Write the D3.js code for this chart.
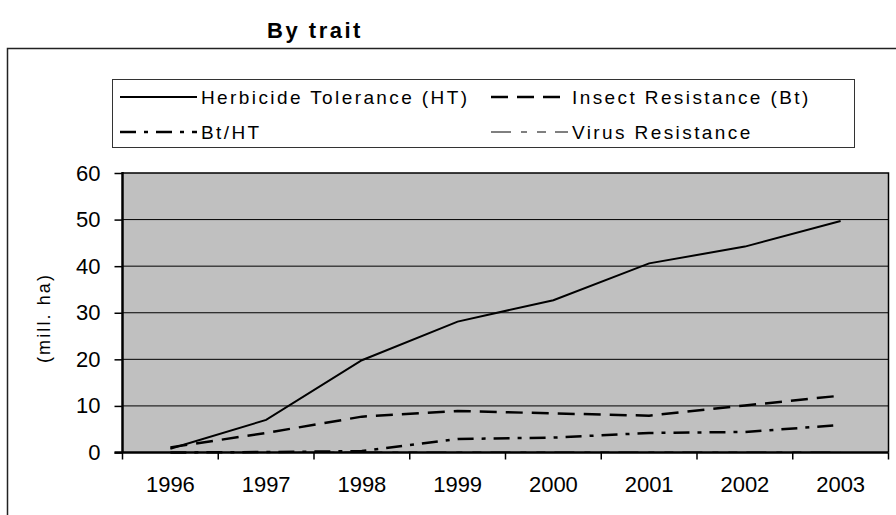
<!DOCTYPE html>
<html><head><meta charset="utf-8">
<script src="https://cdn.jsdelivr.net/npm/d3@7"></script>
<style>
body{margin:0;background:#fff;}
svg{display:block;font-family:"Liberation Sans",Arial,sans-serif;}
</style></head>
<body>
<svg id="c" width="896" height="515"></svg>
<script>
const years = ["1996","1997","1998","1999","2000","2001","2002","2003"];
const herbicideTolerance = [0.8, 7.0, 19.8, 28.1, 32.7, 40.6, 44.2, 49.7];
const insectResistance = [1.1, 4.2, 7.7, 8.9, 8.4, 7.9, 10.1, 12.2];
const btHT = [0, 0.1, 0.3, 2.9, 3.2, 4.2, 4.4, 5.9];
const virusResistance = [0, 0, 0.1, 0.1, 0.1, 0.1, 0.1, 0.1];
const yTicks = [0,10,20,30,40,50,60];
const seriesNames = ["Herbicide Tolerance (HT)","Insect Resistance (Bt)","Bt/HT","Virus Resistance"];

const series = [
  {name: seriesNames[0], values: herbicideTolerance, dash: null, w: 2},
  {name: seriesNames[1], values: insectResistance, dash: "17,9", w: 2.5},
  {name: seriesNames[2], values: btHT, dash: "16,8,4,8", w: 2.5},
  {name: seriesNames[3], values: virusResistance, dash: "20,10,6,10,9,9", w: 1}
];

const svg = d3.select("#c");
const L = 122.5, R = 888.5, T = 173, B = 452.5;

// outer border
svg.append("rect").attr("x",7.5).attr("y",48.5).attr("width",900).attr("height",520)
  .attr("fill","none").attr("stroke","#222").attr("stroke-width",1.5);

// title
svg.append("text").attr("x",315).attr("y",38).attr("text-anchor","middle")
  .attr("font-size",22).attr("font-weight","bold").attr("letter-spacing",2.5).text("By trait");

const x = d3.scaleBand().domain(years).range([L,R]);
const y = d3.scaleLinear().domain([0,60]).range([B,T]);

// plot area
svg.append("rect").attr("x",L).attr("y",T).attr("width",R-L).attr("height",B-T).attr("fill","#c0c0c0");

// gridlines
svg.append("g").selectAll("line").data(yTicks.filter(d=>d>0&&d<60)).join("line")
  .attr("x1",L).attr("x2",R).attr("y1",d=>y(d)).attr("y2",d=>y(d))
  .attr("stroke","#000").attr("stroke-width",1);

// plot border top/right
svg.append("path").attr("d",`M${L},${T}H${R}V${B}`).attr("fill","none").attr("stroke","#000").attr("stroke-width",1.5);

// lines
const line = d3.line().x((d,i)=>x(years[i])+x.bandwidth()/2).y(d=>y(d));
series.slice().reverse().forEach(s=>{
  svg.append("path").datum(s.values).attr("d",line).attr("fill","none")
    .attr("stroke","#000").attr("stroke-width",s.w)
    .attr("stroke-dasharray",s.dash);
});

// y axis
const yAxis = d3.axisLeft(y).tickValues(yTicks).tickSize(8).tickPadding(14).tickFormat(d3.format("d"));
const gy = svg.append("g").attr("transform",`translate(${L},0)`).call(yAxis);
gy.select(".domain").attr("stroke","#000").attr("stroke-width",2.5).attr("d",`M0,${T-1}V${B}`);
gy.selectAll(".tick line").attr("stroke","#000").attr("stroke-width",1.5);
gy.selectAll("text").attr("font-size",22).attr("font-family","Liberation Sans, Arial, sans-serif").attr("fill","#000");

// x axis
const xAxis = d3.axisBottom(x).tickSize(0).tickPadding(24);
const gx = svg.append("g").attr("transform",`translate(0,${B})`).call(xAxis);
gx.select(".domain").attr("stroke","#000").attr("stroke-width",2.5).attr("d",`M${L-8},0H${R}`);
gx.selectAll("text").attr("font-size",22).attr("font-family","Liberation Sans, Arial, sans-serif").attr("fill","#000");
// boundary ticks
const bounds = years.map(d=>x(d)).concat([R]);
gx.append("g").selectAll("line").data(bounds).join("line")
  .attr("x1",d=>d).attr("x2",d=>d).attr("y1",0).attr("y2",7)
  .attr("stroke","#000").attr("stroke-width",1.5);

// y label
svg.append("text").attr("transform","translate(50,318) rotate(-90)").attr("text-anchor","middle")
  .attr("font-size",18).attr("letter-spacing",2.1).text("(mill. ha)");

// legend
const lg = svg.append("g");
lg.append("rect").attr("x",112.5).attr("y",79.5).attr("width",742).attr("height",68)
  .attr("fill","#fff").attr("stroke","#333").attr("stroke-width",1);
const pos = [[120,97],[491,97],[120,132],[491,132]];
series.forEach((s,i)=>{
  const [px,py] = pos[i];
  lg.append("line").attr("x1",px).attr("x2",px+77).attr("y1",py).attr("y2",py)
    .attr("stroke","#000").attr("stroke-width",s.w).attr("stroke-dasharray",s.dash);
  lg.append("text").attr("x",px+81).attr("y",py+7).attr("font-size",19).attr("letter-spacing",2.4).text(s.name);
});
</script>
</body></html>
